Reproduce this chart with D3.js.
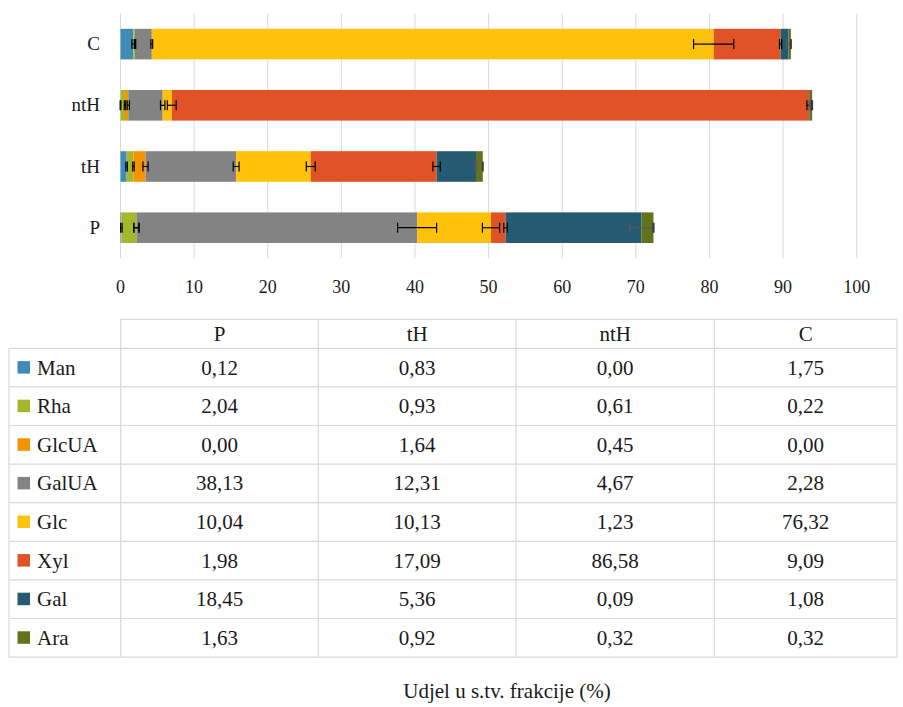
<!DOCTYPE html>
<html><head><meta charset="utf-8">
<script src="https://cdn.jsdelivr.net/npm/d3@7"></script>
</head><body style="margin:0"><svg id="c" width="903" height="707" style="font-family:'Liberation Serif'" font-family="'Liberation Serif'"></svg>
<script>
const categories = ["P", "tH", "ntH", "C"];
const chartOrder = ["C", "ntH", "tH", "P"];
const seriesNames = ["Man", "Rha", "GlcUA", "GalUA", "Glc", "Xyl", "Gal", "Ara"];
const seriesColors = ["#418bbb", "#a5b82b", "#f59300", "#838383", "#ffc20a", "#e05326", "#255a72", "#62731b"];
// values per series, in order of categories [P, tH, ntH, C]
const Man   = [0.12, 0.83, 0.00, 1.75];
const Rha   = [2.04, 0.93, 0.61, 0.22];
const GlcUA = [0.00, 1.64, 0.45, 0.00];
const GalUA = [38.13, 12.31, 4.67, 2.28];
const Glc   = [10.04, 10.13, 1.23, 76.32];
const Xyl   = [1.98, 17.09, 86.58, 9.09];
const Gal   = [18.45, 5.36, 0.09, 1.08];
const Ara   = [1.63, 0.92, 0.32, 0.32];
// estimated error (±) per series per category
const errMan   = [0.1, 0.1, 0.05, 0.2];
const errRha   = [0.35, 0.1, 0.1, 0.1];
const errGlcUA = [0.35, 0.35, 0.15, 0.05];
const errGalUA = [2.65, 0.4, 0.3, 0.12];
const errGlc   = [1.17, 0.6, 0.6, 2.73];
const errXyl   = [0.25, 0.5, 0.3, 0.15];
const errGal   = [1.6, 0.1, 0.08, 0.3];
const errAra   = [0.08, 0.05, 0.05, 0.05];
const xTicks = [0, 10, 20, 30, 40, 50, 60, 70, 80, 90, 100];
const title = "Udjel u s.tv. frakcije (%)";

const values = [Man, Rha, GlcUA, GalUA, Glc, Xyl, Gal, Ara];
const errors = [errMan, errRha, errGlcUA, errGalUA, errGlc, errXyl, errGal, errAra];
const errColors = ["#000", "#000", "#000", "#000", "#000", "#000", "#5a5a5a", "#3a3a3a"];

const svg = d3.select("#c");
const x = d3.scaleLinear().domain([0, 100]).range([120.5, 856.7]);
const y = d3.scaleBand().domain(chartOrder).range([13.5, 258.3]).paddingInner(0.5).paddingOuter(0.25);

function txt(sel) { return sel.attr("fill", "#1a1a1a"); }

// gridlines
svg.append("g").selectAll("line").data(xTicks).join("line")
  .attr("x1", d => x(d)).attr("x2", d => x(d)).attr("y1", 13.5).attr("y2", 258.3)
  .attr("stroke", "#d9d9d9").attr("stroke-width", 1);

// tick labels
txt(svg.append("g").selectAll("text").data(xTicks).join("text"))
  .attr("x", d => x(d)).attr("y", 293).attr("text-anchor", "middle")
  .attr("font-size", 18).text(d => d);

// category labels
txt(svg.append("g").selectAll("text").data(chartOrder).join("text"))
  .attr("x", 100).attr("y", d => y(d) + y.bandwidth() / 2 + 6).attr("text-anchor", "end")
  .attr("font-size", 19).text(d => d);

// stacked data
const rows = categories.map((c, ci) => {
  const r = {cat: c};
  seriesNames.forEach((s, si) => r[s] = values[si][ci]);
  return r;
});
const stack = d3.stack().keys(seriesNames)(rows);

const bars = svg.append("g");
stack.forEach((layer, si) => {
  bars.append("g").attr("fill", seriesColors[si]).selectAll("rect").data(layer).join("rect")
    .attr("x", d => x(d[0])).attr("width", d => Math.max(0, x(d[1]) - x(d[0])))
    .attr("y", d => y(d.data.cat)).attr("height", y.bandwidth());
});

// error bars
const eb = svg.append("g");
stack.forEach((layer, si) => {
  layer.forEach((d, ci) => {
    const e = errors[si][ci];
    const cy = y(d.data.cat) + y.bandwidth() / 2;
    const g = eb.append("g").attr("stroke", errColors[si]).attr("stroke-width", 1.2);
    const x1 = x(d[1] - e), x2 = x(d[1] + e);
    g.append("line").attr("x1", x1).attr("x2", x2).attr("y1", cy).attr("y2", cy);
    g.append("line").attr("x1", x1).attr("x2", x1).attr("y1", cy - 5).attr("y2", cy + 5);
    g.append("line").attr("x1", x2).attr("x2", x2).attr("y1", cy - 5).attr("y2", cy + 5);
  });
});

// data table
const colX = [120.7, 318.3, 516, 714.3, 897];
const leftX = 9;
const headerTop = 319.3, headerBottom = 348.3, rowH = 38.6;
const tableBottom = headerBottom + rowH * seriesNames.length;
const tg = svg.append("g").attr("stroke", "#d9d9d9").attr("stroke-width", 1.2);
tg.append("line").attr("x1", colX[0]).attr("x2", colX[4]).attr("y1", headerTop).attr("y2", headerTop);
d3.range(seriesNames.length + 1).forEach(i => {
  const yy = headerBottom + i * rowH;
  tg.append("line").attr("x1", leftX).attr("x2", colX[4]).attr("y1", yy).attr("y2", yy);
});
colX.forEach(cx => tg.append("line").attr("x1", cx).attr("x2", cx).attr("y1", headerTop).attr("y2", tableBottom));
tg.append("line").attr("x1", leftX).attr("x2", leftX).attr("y1", headerBottom).attr("y2", tableBottom);

// header
txt(svg.append("g").selectAll("text").data(categories).join("text"))
  .attr("x", (d, i) => (colX[i] + colX[i + 1]) / 2).attr("y", (headerTop + headerBottom) / 2 + 7)
  .attr("text-anchor", "middle").attr("font-size", 21).text(d => d);

const fmt = v => v.toFixed(2).replace(".", ",");
seriesNames.forEach((s, si) => {
  const cy = headerBottom + si * rowH + rowH / 2;
  svg.append("rect").attr("x", 17.5).attr("y", cy - 6.5).attr("width", 12.5).attr("height", 12.5).attr("fill", seriesColors[si]);
  txt(svg.append("text")).attr("x", 37).attr("y", cy + 7).attr("font-size", 21).text(s);
  txt(svg.append("g").selectAll("text").data(values[si]).join("text"))
    .attr("x", (d, i) => (colX[i] + colX[i + 1]) / 2).attr("y", cy + 7)
    .attr("text-anchor", "middle").attr("font-size", 21).text(d => fmt(d));
});

txt(svg.append("text")).attr("x", 507).attr("y", 698).attr("text-anchor", "middle")
  .attr("font-size", 21).text(title);
</script></body></html>
